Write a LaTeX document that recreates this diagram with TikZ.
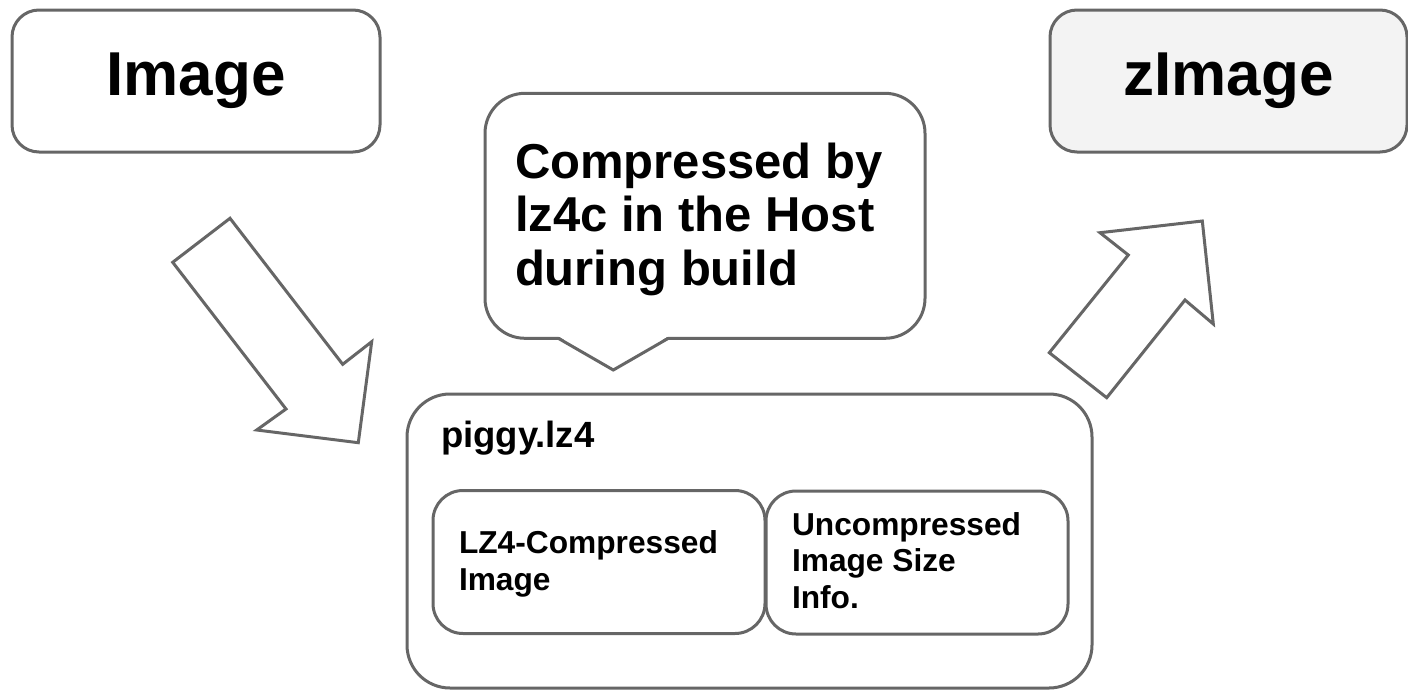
\documentclass[tikz,border=0pt]{standalone}
\usepackage{fontspec}
\setmainfont{Liberation Sans}
\definecolor{edge}{HTML}{666666}
\definecolor{zfill}{HTML}{F3F3F3}
\begin{document}
\begin{tikzpicture}[x=1pt,y=-1pt,
  every node/.style={inner sep=0pt, outer sep=0pt},
  boxline/.style={draw=edge, line width=3pt},
  bigbox/.style={boxline, rounded corners=27pt, minimum width=368pt, minimum height=142pt,
    font=\fontsize{62}{70}\selectfont\bfseries},
  innerbox/.style={boxline, rounded corners=30pt, minimum height=143pt},
  label/.style={anchor=base west, align=left, font=\fontsize{31.7}{36.4}\selectfont\bfseries},
  blockarrow/.style={boxline, fill=white, line join=miter}]
\useasboundingbox (0,0) rectangle (1408,691);
% top boxes
\node[bigbox, fill=white] (img) at (196,81) {Image};
\node[bigbox, fill=zfill, minimum width=357pt] (zimg) at (1228.5,81) {zImage};
% callout
\node[boxline, fill=white, rounded corners=40pt, minimum width=440pt, minimum height=245pt] (callout) at (705,215.8) {};
\coordinate (tip) at (613.3,370);
\coordinate (tl) at (558.3,338.3);
\coordinate (tr) at (668.3,338.3);
\fill[white] (558.3,336.2) -- (tip) -- (668.3,336.2) -- cycle;
\draw[boxline, line join=miter] (tl) -- (tip) -- (tr);
\node[anchor=base west, align=left, font=\fontsize{49}{53.4}\selectfont\bfseries] (note) at (515,285) {Compressed by\\lz4c in the Host\\during build};
% piggy box
\node[boxline, rounded corners=43pt, minimum width=685pt, minimum height=294pt] (piggy) at (749.5,541) {};
\node[anchor=base west, font=\fontsize{36.5}{40}\selectfont\bfseries] (piggylabel) at (441,447) {piggy.lz4};
\node[innerbox, minimum width=332pt] (lzimg) at (599,562) {};
\node[innerbox, minimum width=302pt] (sizeinfo) at (917,562.5) {};
\node[label] (lzlabel) at (459,590) {LZ4-Compressed\\Image};
\node[label] (sizelabel) at (792,608) {Uncompressed\\Image Size\\Info.};
% block arrows
\draw[blockarrow] (230,218.3) -- (342.7,364.3) -- (371.7,341.7) -- (358.3,442.7) -- (256.7,430) -- (286,409) -- (172.7,262.3) -- cycle;
\draw[blockarrow] (1049.3,352.7) -- (1128.3,255) -- (1100,232.7) -- (1202.3,221) -- (1213.3,324) -- (1185,300) -- (1106.7,397.7) -- cycle;
\end{tikzpicture}
\end{document}
